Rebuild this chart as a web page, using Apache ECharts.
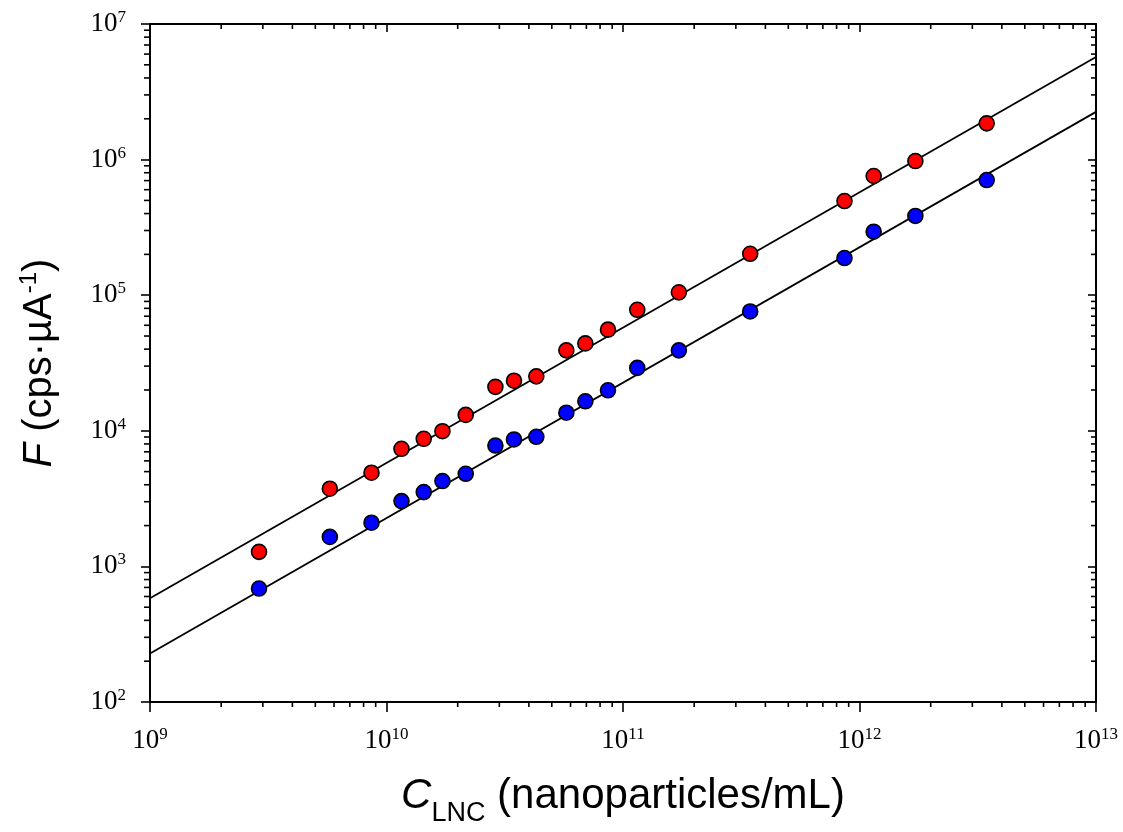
<!DOCTYPE html>
<html><head><meta charset="utf-8">
<script src="https://cdn.jsdelivr.net/npm/echarts@6/dist/echarts.min.js"></script>
<style>html,body{margin:0;padding:0;background:#fff}#c{width:1123px;height:832px}</style>
</head><body><div id="c"></div>
<script>
// Concentration of LNC (nanoparticles/mL)
const xConc = [2.89e9, 5.76e9, 8.64e9, 1.157e10, 1.437e10, 1.724e10, 2.163e10, 2.887e10, 3.46e10, 4.30e10,
               5.76e10, 6.93e10, 8.64e10, 1.149e11, 1.723e11, 3.45e11, 8.64e11, 1.148e12, 1.723e12, 3.45e12];
// Fluorescence F (cps·µA-1), red series
const redF = [1280, 3740, 4910, 7370, 8730, 9930, 13100, 21100, 23400, 25200,
              39200, 44100, 55700, 78100, 105000, 202000, 495000, 757000, 976000, 1850000];
// Fluorescence F (cps·µA-1), blue series
const blueF = [687, 1650, 2100, 3030, 3530, 4260, 4820, 7790, 8630, 9030,
               13600, 16500, 19900, 29100, 39200, 75900, 188000, 294000, 384000, 707000];
// fitted lines (end points)
const fitX = [1e9, 1e13];
const redFitF = [583, 5.71e6];
const blueFitF = [228, 2.25e6];
// tick decades
const xDecades = [9, 10, 11, 12, 13];
const yDecades = [2, 3, 4, 5, 6, 7];
const minorMult = [2, 3, 4, 5, 6, 7, 8, 9];

function pairs(xs, ys) { return xs.map((x, i) => [x, ys[i]]); }
function expLabel(v) { const e = Math.round(Math.log10(v)); return '{b|10}{s|' + e + '}'; }
const tickRich = {
  b: { fontFamily: 'Liberation Serif', fontSize: 27, color: '#000' },
  s: { fontFamily: 'Liberation Serif', fontSize: 17, color: '#000', padding: [0, 0, 13, 0] }
};
const axisLineStyle = { color: '#000', width: 2 };
const tickStyle = { color: '#000', width: 1.6 };

const chart = echarts.init(document.getElementById('c'), null, { renderer: 'canvas' });
chart.setOption({
  animation: false,
  backgroundColor: '#fff',
  grid: { left: 150, right: 27, top: 24, bottom: 129, containLabel: false },
  xAxis: [{
    type: 'log', logBase: 10, min: 1e9, max: 1e13, splitNumber: 4, position: 'bottom',
    axisLine: { lineStyle: axisLineStyle },
    axisTick: { inside: false, length: 10, lineStyle: tickStyle },
    axisLabel: { formatter: expLabel, rich: tickRich, margin: 24 },
    splitLine: { show: false },
    name: '{i|C}{sub|LNC} (nanoparticles/mL)',
    nameLocation: 'middle', nameGap: 64,
    nameTextStyle: {
      fontFamily: 'Liberation Sans', fontSize: 42, color: '#000',
      rich: {
        i: { fontFamily: 'Liberation Sans', fontSize: 42, fontStyle: 'italic', color: '#000' },
        sub: { fontFamily: 'Liberation Sans', fontSize: 27, color: '#000', padding: [34, 0, 0, 0] }
      }
    }
  }, {
    type: 'log', logBase: 10, min: 1e9, max: 1e13, splitNumber: 4, position: 'top',
    axisLine: { lineStyle: axisLineStyle },
    axisTick: { inside: true, length: 8, lineStyle: tickStyle },
    axisLabel: { show: false }, splitLine: { show: false }
  }],
  yAxis: [{
    type: 'log', logBase: 10, min: 1e2, max: 1e7, splitNumber: 5, position: 'left',
    axisLine: { lineStyle: axisLineStyle },
    axisTick: { inside: false, length: 9, lineStyle: tickStyle },
    axisLabel: { formatter: expLabel, rich: tickRich, margin: 24 },
    splitLine: { show: false },
    name: '{i|F} (cps·µA{sup|-1})',
    nameLocation: 'middle', nameGap: 88, nameRotate: 90,
    nameTextStyle: {
      fontFamily: 'Liberation Sans', fontSize: 40, color: '#000',
      rich: {
        i: { fontFamily: 'Liberation Sans', fontSize: 40, fontStyle: 'italic', color: '#000' },
        sup: { fontFamily: 'Liberation Sans', fontSize: 24, color: '#000', padding: [0, 0, 21, 0] }
      }
    }
  }, {
    type: 'log', logBase: 10, min: 1e2, max: 1e7, splitNumber: 5, position: 'right',
    axisLine: { lineStyle: axisLineStyle },
    axisTick: { inside: true, length: 8, lineStyle: tickStyle },
    axisLabel: { show: false }, splitLine: { show: false }
  }],
  series: [
    {
      type: 'custom', xAxisIndex: 0, yAxisIndex: 0, silent: true, clip: false, z: 1,
      data: [[1e10, 1e4]],
      renderItem: function (params, api) {
        const cs = params.coordSys;
        const st = { stroke: '#000', lineWidth: 1.6 };
        const children = [];
        xDecades.slice(0, -1).forEach(d => minorMult.forEach(m => {
          const px = api.coord([m * Math.pow(10, d), 1e4])[0];
          const yb = cs.y + cs.height;
          children.push({ type: 'line', shape: { x1: px, y1: yb, x2: px, y2: yb + 5 }, style: st });
          children.push({ type: 'line', shape: { x1: px, y1: cs.y, x2: px, y2: cs.y + 5 }, style: st });
        }));
        yDecades.slice(0, -1).forEach(d => minorMult.forEach(m => {
          const py = api.coord([1e10, m * Math.pow(10, d)])[1];
          const xr = cs.x + cs.width;
          children.push({ type: 'line', shape: { x1: cs.x - 6, y1: py, x2: cs.x, y2: py }, style: st });
          children.push({ type: 'line', shape: { x1: xr - 5, y1: py, x2: xr, y2: py }, style: st });
        }));
        return { type: 'group', children: children };
      }
    },
    {
      name: 'fitRed', type: 'line', data: pairs(fitX, redFitF), showSymbol: false, symbol: 'none',
      lineStyle: { color: '#000', width: 1.8 }, z: 2, silent: true
    },
    {
      name: 'fitBlue', type: 'line', data: pairs(fitX, blueFitF), showSymbol: false, symbol: 'none',
      lineStyle: { color: '#000', width: 1.8 }, z: 2, silent: true
    },
    {
      name: 'red', type: 'scatter', data: pairs(xConc, redF), symbol: 'circle', symbolSize: 15,
      itemStyle: { color: '#ff0000', borderColor: '#000', borderWidth: 1.6, opacity: 1 }, z: 3
    },
    {
      name: 'blue', type: 'scatter', data: pairs(xConc, blueF), symbol: 'circle', symbolSize: 15,
      itemStyle: { color: '#0000ff', borderColor: '#000', borderWidth: 1.6, opacity: 1 }, z: 3
    }
  ]
});
</script>
</body></html>
